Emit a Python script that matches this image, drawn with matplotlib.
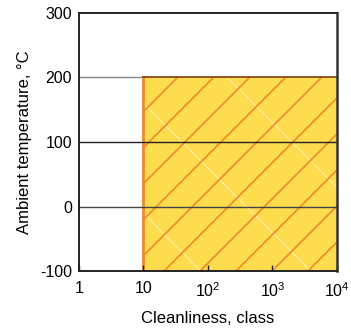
import numpy as np
import matplotlib
matplotlib.use('Agg')
import matplotlib.pyplot as plt
from matplotlib.patches import Rectangle

plt.rcParams['font.family'] = ['Liberation Sans', 'DejaVu Sans']
plt.rcParams['mathtext.fontset'] = 'custom'
plt.rcParams['mathtext.rm'] = 'Liberation Sans'
plt.rcParams['axes.unicode_minus'] = False

# data
x_ticks = [1, 10, 100, 1000, 10000]
x_labels = ['1', '10', r'$\mathregular{10^2}$', r'$\mathregular{10^3}$', r'$\mathregular{10^4}$']
y_ticks = [-100, 0, 100, 200, 300]
y_labels = ['-100', '0', '100', '200', '300']
grid_levels = [0, 100, 200]
region_x = [10, 10000]        # cleanliness class range
region_y = [-100, 200]        # ambient temperature range, C

yellow = '#FDDC4E'
orange = '#F0892A'

fig = plt.figure(figsize=(3.51, 3.31), dpi=100)
ax = fig.add_axes([0.225, 0.181, 0.735, 0.780])
ax.set_xscale('log')
ax.set_xlim(x_ticks[0], x_ticks[-1])
ax.set_ylim(y_ticks[0], y_ticks[-1])

# grid line at 200 behind the box
ax.axhline(grid_levels[2], color='#888888', lw=1.0, zorder=0.5)

box = Rectangle((region_x[0], region_y[0]), region_x[1] - region_x[0],
                region_y[1] - region_y[0], facecolor=yellow, edgecolor='none', zorder=1)
ax.add_patch(box)

# hatch lines (in axes fraction, clipped to the box)
t = np.array([-1.5, 2.5])
for d in np.arange(-0.368 - 0.1395 * 2, 1.2, 0.1395):
    ln, = ax.plot(t, t - d, transform=ax.transAxes, color=orange, lw=1.2, zorder=1.2)
    ln.set_clip_path(box)
for s in np.arange(0.473 - 0.426, 2.2, 0.426):
    ln, = ax.plot(t, s - t, transform=ax.transAxes, color='#FFF4C8', lw=0.6, zorder=1.1)
    ln.set_clip_path(box)

# box edges
ax.plot([region_x[0], region_x[0]], region_y, color=orange, lw=2.0, zorder=1.5)
ax.plot(region_x, [region_y[1], region_y[1]], color='#8A4A1A', lw=1.3, zorder=1.5)

ax.axhline(grid_levels[1], color='#222222', lw=1.0, zorder=2)
ax.axhline(grid_levels[0], color='#444444', lw=1.0, zorder=2)

ax.set_xticks(x_ticks)
ax.set_xticklabels(x_labels, fontsize=11.5)
ax.xaxis.set_minor_locator(matplotlib.ticker.NullLocator())
ax.set_yticks(y_ticks)
ax.set_yticklabels(y_labels, fontsize=11.5)
ax.tick_params(axis='x', direction='in', length=4, width=1, pad=7, color='#222222')
ax.tick_params(axis='y', length=0, pad=5)

for sp in ['left', 'bottom', 'top']:
    ax.spines[sp].set_linewidth(1.4)
    ax.spines[sp].set_color('#222222')
ax.spines['right'].set_linewidth(1.8)
ax.spines['right'].set_color('#333333')
for sp in ax.spines.values():
    sp.set_zorder(3)

ax.set_xlabel('Cleanliness, class', fontsize=12, labelpad=8)
ax.set_ylabel('Ambient temperature, °C', fontsize=12, labelpad=6)

fig.savefig('out.png', dpi=100)
